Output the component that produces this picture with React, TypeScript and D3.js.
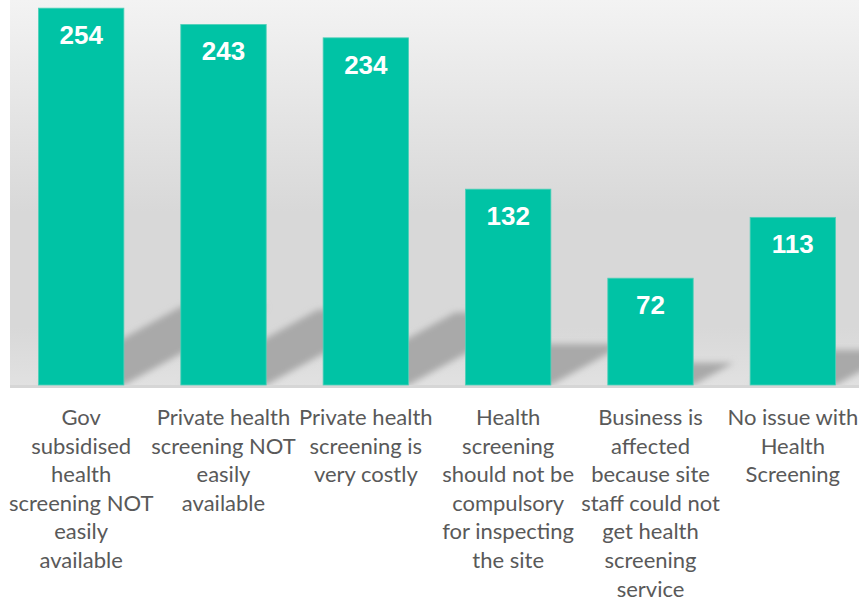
import { scaleBand, scaleLinear } from 'd3'

const categories = [
  'gov', 'privateNotAvailable', 'privateCostly', 'notCompulsory', 'businessAffected', 'noIssue'
]
const values = [254, 243, 234, 132, 72, 113]
const labelLines = [
  ['Gov', 'subsidised', 'health', 'screening NOT', 'easily', 'available'],
  ['Private health', 'screening NOT', 'easily', 'available'],
  ['Private health', 'screening is', 'very costly'],
  ['Health', 'screening', 'should not be', 'compulsory', 'for inspecting', 'the site'],
  ['Business is', 'affected', 'because site', 'staff could not', 'get health', 'screening', 'service'],
  ['No issue with', 'Health', 'Screening']
]

const width = 859
const height = 603
const plot = { left: 10, right: 864, top: 0, bottom: 385 }

const barColor = '#00c3a5'
const labelColor = '#595959'

function App() {
  const xScale = scaleBand()
    .domain(categories)
    .range([plot.left, plot.right])
    .paddingInner(0.4)
    .paddingOuter(0.2)

  const yScale = scaleLinear()
    .domain([0, 259.5])
    .range([plot.bottom, plot.top])

  const bw = xScale.bandwidth()

  // diagonal "floor" shadow cast behind each bar
  const shadowPath = (cat: string, v: number) => {
    const x0 = xScale(cat)!
    const x1 = x0 + bw
    const h = yScale(0) - yScale(v)
    const d = h * 0.38
    const y0 = yScale(0)
    const y1 = y0 - d * 0.55
    return `M${x0},${y0}L${x1},${y0}L${x1 + d},${y1}L${x0 + d},${y1}Z`
  }

  return (
    <svg width={width} height={height} style={{ position: 'absolute', left: 0, top: 0 }}>
      <defs>
        <linearGradient id="bg" x1="0" y1="0" x2="0" y2="1">
          <stop offset="0" stopColor="#f3f3f3" />
          <stop offset="0.55" stopColor="#d8d8d8" />
          <stop offset="0.85" stopColor="#d8d8d8" />
          <stop offset="1" stopColor="#e1e1e1" />
        </linearGradient>
        <filter id="blur" x="-20%" y="-20%" width="140%" height="140%">
          <feGaussianBlur stdDeviation="3" />
        </filter>
        <clipPath id="plotClip">
          <rect x={plot.left} y={plot.top} width={width - plot.left} height={plot.bottom - plot.top} />
        </clipPath>
      </defs>
      <rect x={plot.left} y={plot.top} width={width - plot.left} height={plot.bottom - plot.top} fill="url(#bg)" />
      <rect x={plot.left} y={plot.bottom} width={width - plot.left} height={3} fill="#d6d6d6" />
      <g clipPath="url(#plotClip)">
        <g filter="url(#blur)">
          {categories.map((c, i) => (
            <path key={c} d={shadowPath(c, values[i])} fill="#a9a9a9" />
          ))}
        </g>
      </g>
      {categories.map((c, i) => (
        <g key={c}>
          <rect
            x={xScale(c)}
            y={yScale(values[i])}
            width={bw}
            height={yScale(0) - yScale(values[i])}
            fill={barColor}
            stroke="#4fd0b8"
            strokeWidth={0.8}
          />
          <text
            x={xScale(c)! + bw / 2}
            y={yScale(values[i]) + 36}
            textAnchor="middle"
            fill="#ffffff"
            fontFamily="'Liberation Sans', Arial, sans-serif"
            fontWeight="bold"
            fontSize={26}
          >{values[i]}</text>
        </g>
      ))}
      {categories.map((c, i) => (
        <text
          key={c}
          x={xScale(c)! + bw / 2}
          y={425}
          textAnchor="middle"
          fill={labelColor}
          fontFamily="Lato, 'Open Sans', sans-serif"
          fontSize={22}
        >
          {labelLines[i].map((line, j) => (
            <tspan key={j} x={xScale(c)! + bw / 2} dy={j === 0 ? 0 : 28.6}>{line}</tspan>
          ))}
        </text>
      ))}
    </svg>
  )
}

export default App
